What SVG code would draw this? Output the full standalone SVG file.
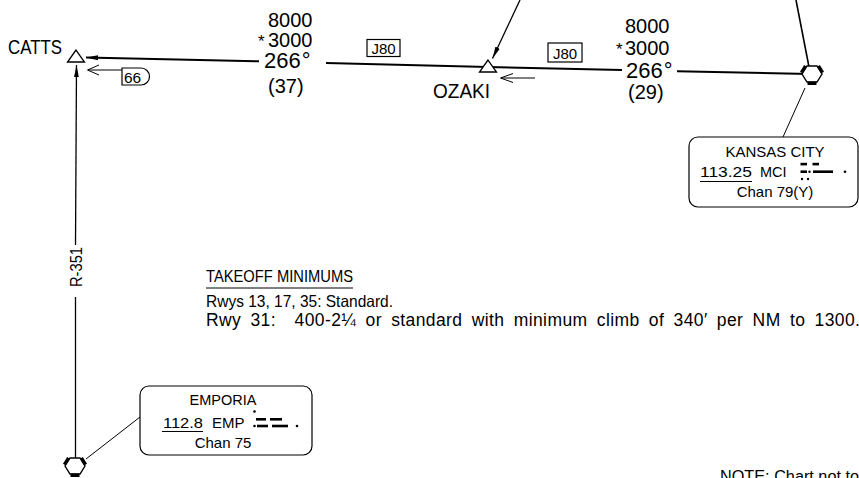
<svg xmlns="http://www.w3.org/2000/svg" width="859" height="478" viewBox="0 0 859 478">
<style>
text{font-family:"Liberation Sans",Arial,sans-serif;fill:#000}
.ln{stroke:#000;fill:none}
.air{stroke:#000;stroke-width:2;fill:none}
.thin{stroke:#000;stroke-width:1;fill:none}
.box{fill:#fff;stroke:#000;stroke-width:1.2}
.fix{fill:#fff;stroke:#000;stroke-width:1.3}
</style>
<defs>
<marker id="ah" viewBox="0 0 12 6" refX="12" refY="3" markerWidth="12" markerHeight="6" markerUnits="userSpaceOnUse" orient="auto">
<path d="M0,0.6 L12,3 L0,5.4 Z" fill="#000"/>
</marker>
<g id="vortac">
<polygon points="-10,0 -5,-8 5,-8 10,0 5,8 -5,8" fill="#fff" stroke="#000" stroke-width="1.4"/>
<line x1="-10.6" y1="-1.4" x2="-6.4" y2="-8.2" stroke="#000" stroke-width="3.4"/>
<line x1="10.6" y1="-1.4" x2="6.4" y2="-8.2" stroke="#000" stroke-width="3.4"/>
<rect x="-4.5" y="7.6" width="9" height="3.4" fill="#000"/>
</g>
</defs>

<g id="connectors">
<line class="air" x1="259" y1="61.3" x2="86" y2="57.5" marker-end="url(#ah)"/>
<line class="air" x1="326" y1="63" x2="488" y2="67"/>
<line class="air" x1="488" y1="67" x2="622" y2="70"/>
<line class="air" x1="677" y1="71.2" x2="810" y2="74"/>
<line class="ln" stroke-width="1.3" x1="520" y1="0" x2="492.5" y2="58.5" marker-end="url(#ah)"/>
<line class="ln" stroke-width="1.6" x1="796" y1="0" x2="809" y2="67"/>
<line class="ln" stroke-width="1.3" x1="75.5" y1="458" x2="75.5" y2="297"/>
<line class="ln" stroke-width="1.3" x1="75.5" y1="245" x2="76.5" y2="65" marker-end="url(#ah)"/>
<line class="thin" x1="805" y1="88" x2="783" y2="137"/>
<line class="thin" x1="140" y1="417" x2="86" y2="459"/>
<path class="thin" d="M99,65 L87.5,70 L99,75 M88,70 H122"/>
<path class="thin" d="M513,73.5 L500.5,78 L513,82.5 M501,78 H535"/>
</g>

<g id="catts">
<polygon class="fix" points="76,50 67.5,62 84.5,62"/>
<text x="8" y="53.5" font-size="19.5" textLength="54" lengthAdjust="spacingAndGlyphs">CATTS</text>
</g>

<g id="ozaki">
<polygon class="fix" points="488,60 479.5,72 496.5,72"/>
<text x="433" y="98" font-size="19.5" textLength="57" lengthAdjust="spacingAndGlyphs">OZAKI</text>
</g>

<g id="seg1-label">
<text x="268" y="27" font-size="20">8000</text>
<text y="46.5" font-size="20"><tspan x="258" font-size="17">*</tspan><tspan x="268">3000</tspan></text>
<text x="264" y="68" font-size="22">266<tspan dx="1">°</tspan></text>
<text x="268" y="93" font-size="20">(37)</text>
</g>

<g id="seg2-label">
<text x="625" y="33" font-size="20">8000</text>
<text y="54.5" font-size="20"><tspan x="616" font-size="17">*</tspan><tspan x="625">3000</tspan></text>
<text x="626" y="78" font-size="22">266<tspan dx="1">°</tspan></text>
<text x="628" y="99" font-size="20">(29)</text>
</g>

<g id="j80-1">
<rect class="box" x="367" y="39.5" width="33" height="17"/>
<text x="383.5" y="54" font-size="15" text-anchor="middle">J80</text>
</g>
<g id="j80-2">
<rect class="box" x="548" y="43" width="34" height="19"/>
<text x="565" y="58.5" font-size="15" text-anchor="middle">J80</text>
</g>

<g id="mea66">
<path class="box" d="M122,68 H141 A8.5,8.5 0 0 1 141,85 H122 Z"/>
<text x="132.5" y="83" font-size="15.5" text-anchor="middle">66</text>
</g>

<g id="r351">
<text transform="translate(81.5,267) rotate(-90)" font-size="16.5" text-anchor="middle" textLength="40" lengthAdjust="spacingAndGlyphs">R-351</text>
</g>

<g id="kansas-city">
<use href="#vortac" x="812" y="74"/>
<rect class="box" x="689" y="137" width="169" height="70" rx="9"/>
<text x="775" y="157" font-size="15" text-anchor="middle">KANSAS CITY</text>
<text x="700" y="177" font-size="15" textLength="52" lengthAdjust="spacingAndGlyphs">113.25</text>
<line class="thin" x1="700" y1="181.5" x2="752" y2="181.5"/>
<text x="760" y="177" font-size="14.5">MCI</text>
<g fill="#000">
<rect x="800.5" y="162.8" width="6.5" height="2.6"/>
<rect x="812.5" y="162.8" width="6.5" height="2.6"/>
<rect x="800.5" y="170.4" width="6.5" height="2.6"/>
<circle cx="809.5" cy="171.7" r="1.2"/>
<rect x="813" y="170.4" width="20" height="2.6"/>
<circle cx="845" cy="171.7" r="1.3"/>
<circle cx="802" cy="179" r="1.2"/>
<circle cx="808" cy="179" r="1.2"/>
</g>
<text x="775" y="197" font-size="15" text-anchor="middle">Chan 79(Y)</text>
</g>

<g id="emporia">
<use href="#vortac" x="75" y="466"/>
<rect class="box" x="140" y="386" width="172" height="69" rx="9"/>
<text x="223" y="405" font-size="14.5" text-anchor="middle">EMPORIA</text>
<text x="163" y="428" font-size="15" textLength="40" lengthAdjust="spacingAndGlyphs">112.8</text>
<line class="thin" x1="162" y1="431.5" x2="203" y2="431.5"/>
<text x="212" y="428" font-size="15">EMP</text>
<g fill="#000">
<circle cx="254.5" cy="411.5" r="1.3"/>
<rect x="256" y="418" width="10" height="2.6"/>
<rect x="270" y="418" width="12" height="2.6"/>
<circle cx="254.5" cy="426" r="1.3"/>
<rect x="257" y="424.7" width="11" height="2.6"/>
<rect x="272" y="424.7" width="16" height="2.6"/>
<circle cx="297" cy="426" r="1.3"/>
</g>
<text x="223" y="448" font-size="15" text-anchor="middle">Chan 75</text>
</g>

<g id="takeoff">
<text x="206" y="282" font-size="16.5" textLength="147" lengthAdjust="spacingAndGlyphs">TAKEOFF MINIMUMS</text>
<line class="thin" x1="206" y1="288" x2="353" y2="288"/>
<text x="206" y="307" font-size="16.5" textLength="187" lengthAdjust="spacingAndGlyphs">Rwys 13, 17, 35:  Standard.</text>
<text x="206" y="326" font-size="17.5" word-spacing="4" letter-spacing="0.4" style="white-space:pre">Rwy 31:  400-2¼ or standard with minimum climb of 340′ per NM to 1300.</text>
</g>

<g id="note">
<text x="720" y="482" font-size="16" textLength="139" lengthAdjust="spacingAndGlyphs">NOTE:  Chart not to</text>
</g>
</svg>
